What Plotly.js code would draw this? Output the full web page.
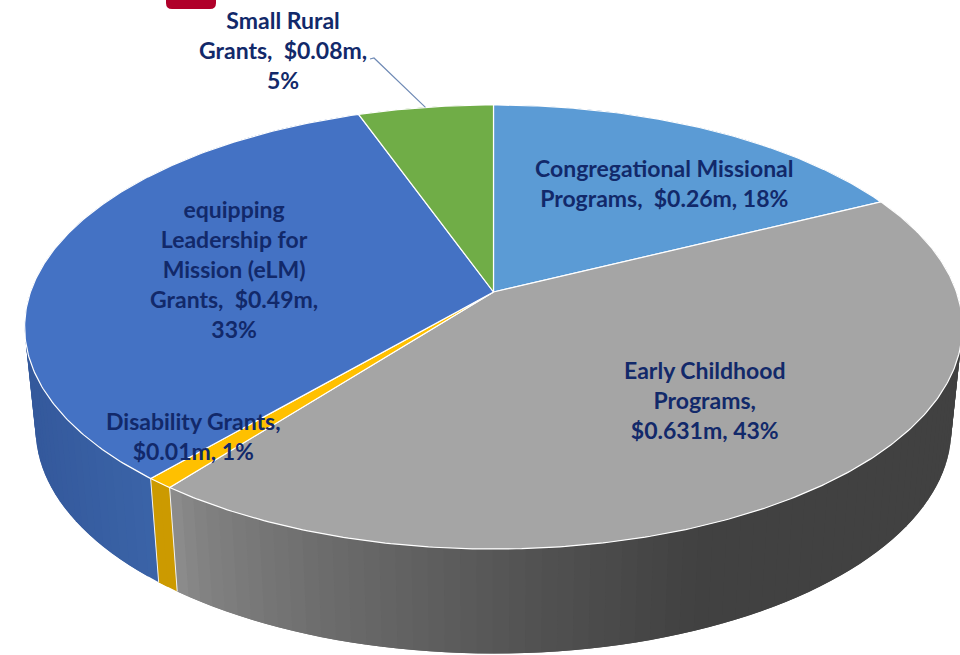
<!DOCTYPE html>
<html><head><meta charset="utf-8"><script src="https://cdn.plot.ly/plotly-3.0.1.min.js"></script>
<style>html,body{margin:0;padding:0;background:#fff;overflow:hidden}</style></head>
<body><div id="chart" style="width:960px;height:655px"></div>
<script>
const categories = ["Congregational Missional Programs","Early Childhood Programs","Disability Grants","equipping Leadership for Mission (eLM) Grants","Small Rural Grants"];
const values = [0.26,0.631,0.012,0.49,0.08];
const topColors = ["#5b9bd5","#a5a5a5","#ffc000","#4472c4","#70ad47"];
const wallLeft = ["#3f77ad","#8b8b8b","#cc9a00","#34599c","#58893a"];
const wallRight = ["#3f77ad","#414141","#cc9a00","#3b64a8","#58893a"];
const labelLines = [
  "Congregational Missional<br>Programs,  $0.26m, 18%",
  "Early Childhood<br>Programs,<br>$0.631m, 43%",
  "Disability Grants,<br>$0.01m, 1%",
  "equipping<br>Leadership for<br>Mission (eLM)<br>Grants,  $0.49m,<br>33%",
  "Small Rural<br>Grants,  $0.08m,<br>5%"];
const labelX = [664,705,193,234,283];
const labelY = [183,400,436,269,50];

// projection of the pie disc
const cx=493.5, cy=292, a=216.5, b=463, k=0.1577;
const total = values.reduce((s,v)=>s+v,0);
function topPt(phi){const w=1+k*Math.cos(phi);return [cx+b*Math.sin(phi)/w, cy-a*Math.cos(phi)/w];}
function lowPt(phi){const p=topPt(phi);return [cx+0.9765*(p[0]-cx), 394+1.01*(p[1]-cy)];}
function hex(c){return [1,3,5].map(i=>parseInt(c.substr(i,2),16));}
const traces=[];
function poly(pts,fill,lineColor,lineWidth){
  traces.push({type:"scatter",mode:"lines",x:pts.map(p=>p[0]),y:pts.map(p=>p[1]),fill:"toself",fillcolor:fill,
    line:{color:lineColor,width:lineWidth},hoverinfo:"skip",showlegend:false});
}
let acc=0; const spans=values.map(v=>{const s=acc/total*2*Math.PI;acc+=v;return [s,acc/total*2*Math.PI];});
// side walls: overlapping bands painted in order hide the seams
spans.forEach((sp,i)=>{
  const n=Math.max(1,Math.round((sp[1]-sp[0])/0.03));
  const L=hex(wallLeft[i]),R=hex(wallRight[i]);
  const step=(sp[1]-sp[0])/n;
  for(let j=0;j<n;j++){
    const p0=sp[0]+step*j, p1=sp[0]+step*(j+1);
    const xm=topPt((p0+p1)/2)[0];
    let t=0;
    if(i===1)t=Math.pow(Math.min(1,Math.max(0,(xm-175)/(700-175))),0.7);
    else if(i===3)t=Math.min(1,Math.max(0,(xm-30)/125));
    const c=L.map((v,q)=>Math.round(v+(R[q]-v)*t));
    const col=`rgb(${c[0]},${c[1]},${c[2]})`;
    const pEnd=j<n-1?p1+step:p1;
    const arc=[]; for(let s=0;s<=4;s++)arc.push(p0+(pEnd-p0)*s/4);
    const pts=arc.map(topPt).concat(arc.slice().reverse().map(lowPt));
    pts.push(pts[0]);
    poly(pts,col,col,0);
  }
});
// pale seams on the front wall
[spans[1][1],spans[2][1]].forEach(phi=>{
  const p=topPt(phi),q=lowPt(phi);
  traces.push({type:"scatter",mode:"lines",x:[p[0],q[0]],y:[p[1],q[1]],line:{color:"#f2f2f2",width:1},hoverinfo:"skip",showlegend:false});
});
// top faces
spans.forEach((sp,i)=>{
  const pts=[[cx,cy]];
  const n=Math.max(4,Math.round((sp[1]-sp[0])/0.01));
  for(let j=0;j<=n;j++)pts.push(topPt(sp[0]+(sp[1]-sp[0])*j/n));
  pts.push([cx,cy]);
  poly(pts,topColors[i],"#ffffff",1.2);
});
// leader line for the outside label
const leaderEnd=topPt((spans[4][0]+spans[4][1])/2);
traces.push({type:"scatter",mode:"lines",x:[370,374,leaderEnd[0]],y:[59,58,leaderEnd[1]],
  line:{color:"#6f8ab5",width:1.2},hoverinfo:"skip",showlegend:false});

const layout={width:960,height:655,margin:{l:0,r:0,t:0,b:0},paper_bgcolor:"#fff",plot_bgcolor:"#fff",showlegend:false,
  xaxis:{range:[0,960],visible:false,fixedrange:true},
  yaxis:{range:[655,0],visible:false,fixedrange:true},
  shapes:[{type:"path",xref:"x",yref:"y",path:"M166,-6 L216,-6 L216,3 Q216,9 210,9 L172,9 Q166,9 166,3 Z",fillcolor:"#b0002a",line:{width:0},layer:"above"}],
  annotations:labelLines.map((t,i)=>({x:labelX[i],y:labelY[i],xref:"x",yref:"y",text:t,showarrow:false,align:"center",
    xanchor:"center",yanchor:"middle",font:{family:"Lato, 'Open Sans', sans-serif",size:23,color:"#12296a",weight:700}}))
};
Plotly.newPlot("chart",traces,layout,{displayModeBar:false,staticPlot:true});
</script></body></html>
